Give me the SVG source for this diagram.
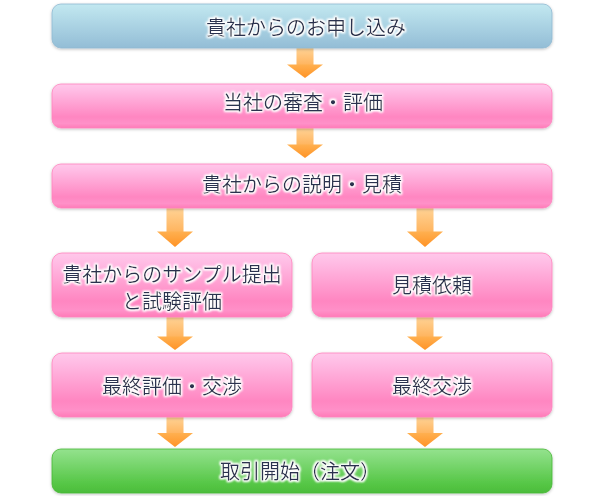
<svg xmlns="http://www.w3.org/2000/svg" width="600" height="496" viewBox="0 0 600 496">
<defs>
<linearGradient id="gBlue" x1="0" y1="0" x2="0" y2="1">
<stop offset="0" stop-color="#c2e8f0"/>
<stop offset="1" stop-color="#93bdd6"/>
</linearGradient>
<linearGradient id="gPink" x1="0" y1="0" x2="0" y2="1">
<stop offset="0" stop-color="#ffc8ea"/>
<stop offset="0.15" stop-color="#ffbce4"/>
<stop offset="0.75" stop-color="#ff86c1"/>
<stop offset="0.9" stop-color="#ff90c8"/>
<stop offset="1" stop-color="#ff7bb8"/>
</linearGradient>
<linearGradient id="gGreen" x1="0" y1="0" x2="0" y2="1">
<stop offset="0" stop-color="#94e28e"/>
<stop offset="0.8" stop-color="#55c645"/>
<stop offset="1" stop-color="#4cbc3c"/>
</linearGradient>
<linearGradient id="gShaft" x1="0" y1="0" x2="0" y2="1">
<stop offset="0" stop-color="#ffd396"/>
<stop offset="1" stop-color="#ffb45e"/>
</linearGradient>
<linearGradient id="gHead" x1="0" y1="0" x2="0" y2="1">
<stop offset="0" stop-color="#ffb050"/>
<stop offset="1" stop-color="#ff9326"/>
</linearGradient>
<filter id="shadow" x="-5%" y="-20%" width="110%" height="150%">
<feDropShadow dx="0" dy="1" stdDeviation="1.6" flood-color="#000" flood-opacity="0.25"/>
</filter>
<filter id="glow" x="-10%" y="-30%" width="120%" height="160%">
<feMorphology in="SourceAlpha" operator="dilate" radius="1" result="d"/>
<feGaussianBlur in="d" stdDeviation="1.2" result="b"/>
<feFlood flood-color="#ffffff"/>
<feComposite in2="b" operator="in" result="w"/>
<feMerge><feMergeNode in="w"/><feMergeNode in="w"/><feMergeNode in="SourceGraphic"/></feMerge>
</filter>
</defs>
<style>
.box{filter:url(#shadow)}
.blue{fill:url(#gBlue);stroke:#8fb9d2;stroke-width:0.8}
.pink{fill:url(#gPink);stroke:#ff84be;stroke-width:0.8}
.green{fill:url(#gGreen);stroke:#47b736;stroke-width:0.8}
.t{font-family:"Noto Sans CJK JP","Noto Sans CJK SC",sans-serif;font-size:20px;fill:#2b3350;text-anchor:middle;filter:url(#glow)}
.shaft{fill:url(#gShaft)}
.head{fill:url(#gHead)}
</style>
<g id="connectors">
<rect class="shaft" x="296.5" y="48" width="17" height="17"/><path class="head" d="M287 64.5H323L305 78Z"/>
<rect class="shaft" x="296.5" y="128" width="17" height="17"/><path class="head" d="M287 144.5H323L305 158Z"/>
<rect class="shaft" x="166.5" y="208" width="17" height="24"/><path class="head" d="M157 231.5H193L175 247Z"/>
<rect class="shaft" x="416.5" y="208" width="17" height="24"/><path class="head" d="M407 231.5H443L425 247Z"/>
<rect class="shaft" x="166.5" y="317" width="17" height="20"/><path class="head" d="M157 336.5H193L175 350Z"/>
<rect class="shaft" x="416.5" y="317" width="17" height="20"/><path class="head" d="M407 336.5H443L425 350Z"/>
<rect class="shaft" x="166.5" y="417" width="17" height="17"/><path class="head" d="M157 433H193L175 447Z"/>
<rect class="shaft" x="416.5" y="417" width="17" height="17"/><path class="head" d="M407 433H443L425 447Z"/>
</g>
<g id="n1"><rect class="box blue" x="52" y="4" width="500" height="44" rx="9"/><text class="t" x="306" y="35">貴社からのお申し込み</text></g>
<g id="n2"><rect class="box pink" x="52" y="84" width="500" height="44" rx="9"/><text class="t" x="303" y="110">当社の審査・評価</text></g>
<g id="n3"><rect class="box pink" x="52" y="164" width="500" height="44" rx="9"/><text class="t" x="302" y="192">貴社からの説明・見積</text></g>
<g id="n4"><rect class="box pink" x="52" y="253" width="240" height="64" rx="10"/><text class="t" x="172" y="282">貴社からのサンプル提出</text><text class="t" x="172" y="309">と試験評価</text></g>
<g id="n5"><rect class="box pink" x="312" y="253" width="240" height="64" rx="10"/><text class="t" x="432" y="293">見積依頼</text></g>
<g id="n6"><rect class="box pink" x="52" y="353" width="240" height="64" rx="10"/><text class="t" x="172" y="394">最終評価・交渉</text></g>
<g id="n7"><rect class="box pink" x="312" y="353" width="240" height="64" rx="10"/><text class="t" x="432" y="394">最終交渉</text></g>
<g id="n8"><rect class="box green" x="52" y="449" width="500" height="44" rx="9"/><text class="t" x="300" y="479">取引開始（注文）</text></g>
</svg>
